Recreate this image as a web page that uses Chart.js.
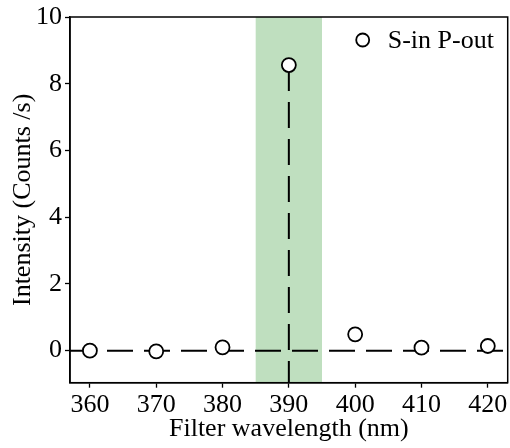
<!DOCTYPE html>
<html>
<head>
<meta charset="utf-8">
<script src="https://cdn.jsdelivr.net/npm/chart.js@4/dist/chart.umd.min.js"></script>
<style>
  html, body { margin: 0; padding: 0; background: #fff; }
  #wrap { width: 510px; height: 448px; }
</style>
</head>
<body>
<div id="wrap"><canvas id="chart" width="510" height="448"></canvas></div>
<script>
// data
const wavelengths = [360, 370, 380, 390, 400, 410, 420]
const intensity = [0.0, -0.02, 0.10, 8.56, 0.49, 0.09, 0.14]
const xTicks = [360, 370, 380, 390, 400, 410, 420]
const yTicks = [0, 2, 4, 6, 8, 10]
const xRange = [357, 423]
const yRange = [-0.96, 10]
const filterBand = [385, 395]
const seriesLabel = "S-in P-out"

const FONT = "'Liberation Serif', 'Times New Roman', serif"

// dashed guide: baseline at 0 and a drop line under the peak
const peakIdx = intensity.indexOf(Math.max(...intensity))
const baseline = [{x: xRange[0], y: 0}, {x: xRange[1], y: 0}]
const dropLine = [
  {x: wavelengths[peakIdx], y: intensity[peakIdx]},
  {x: wavelengths[peakIdx], y: yRange[0]},
]

const bandPlugin = {
  id: "band",
  beforeDatasetsDraw(chart) {
    const {ctx, chartArea: a, scales: {x}} = chart
    const x0 = x.getPixelForValue(filterBand[0])
    const x1 = x.getPixelForValue(filterBand[1])
    ctx.save()
    ctx.fillStyle = "rgb(191,223,191)"
    ctx.fillRect(x0, a.top, x1 - x0, a.bottom - a.top)
    ctx.restore()
  },
}

const framePlugin = {
  id: "frame",
  afterDraw(chart) {
    const {ctx, chartArea: a} = chart
    ctx.save()
    ctx.strokeStyle = "#000"
    ctx.lineWidth = 1.5
    ctx.strokeRect(a.left, a.top, a.right - a.left, a.bottom - a.top)
    ctx.restore()
  },
}

const legendPlugin = {
  id: "legendBox",
  afterDraw(chart) {
    const {ctx, chartArea: a} = chart
    const cx = a.right - 145, cy = a.top + 23
    ctx.save()
    ctx.beginPath()
    ctx.arc(cx, cy, 6.5, 0, Math.PI * 2)
    ctx.fillStyle = "#fff"
    ctx.fill()
    ctx.lineWidth = 1.8
    ctx.strokeStyle = "#000"
    ctx.stroke()
    ctx.fillStyle = "#000"
    ctx.font = "26px " + FONT
    ctx.textBaseline = "middle"
    ctx.fillText(seriesLabel, cx + 25, cy + 1)
    ctx.restore()
  },
}

new Chart(document.getElementById("chart"), {
  type: "scatter",
  data: {
    datasets: [
      {
        label: seriesLabel,
        data: wavelengths.map((w, i) => ({x: w, y: intensity[i]})),
        pointRadius: 7,
        pointBorderWidth: 1.8,
        pointBackgroundColor: "#fff",
        pointBorderColor: "#000",
        showLine: false,
        order: 0,
      },
      {
        data: baseline,
        showLine: true,
        borderColor: "#000",
        borderWidth: 2,
        borderDash: [26, 11],
        pointRadius: 0,
        order: 1,
      },
      {
        data: dropLine,
        showLine: true,
        borderColor: "#000",
        borderWidth: 2,
        borderDash: [26, 11],
        pointRadius: 0,
        order: 1,
      },
    ],
  },
  options: {
    responsive: false,
    animation: false,
    devicePixelRatio: 1,
    layout: { autoPadding: false, padding: { top: 17, right: 2.3, left: 0, bottom: 0 } },
    plugins: { legend: { display: false }, tooltip: { enabled: false } },
    scales: {
      x: {
        type: "linear",
        min: xRange[0],
        max: xRange[1],
        afterBuildTicks: s => { s.ticks = xTicks.map(v => ({value: v})) },
        afterFit: s => { s.height = 65.3; s.paddingLeft = 0; s.paddingRight = 0 },
        grid: { drawOnChartArea: false, drawTicks: true, tickLength: 5, color: "#000", tickWidth: 1.3 },
        border: { display: true, color: "#000", width: 1.5 },
        ticks: { color: "#000", font: { family: FONT, size: 26 }, padding: 2, maxRotation: 0 },
        title: {
          display: true,
          text: "Filter wavelength (nm)",
          color: "#000",
          font: { family: FONT, size: 26 },
          padding: { top: 0, bottom: 3 },
        },
      },
      y: {
        min: yRange[0],
        max: yRange[1],
        afterBuildTicks: s => { s.ticks = yTicks.map(v => ({value: v})) },
        afterFit: s => { s.width = 70; s.paddingTop = 0; s.paddingBottom = 0 },
        grid: { drawOnChartArea: false, drawTicks: true, tickLength: 5, color: "#000", tickWidth: 1.3 },
        border: { display: true, color: "#000", width: 1.5 },
        ticks: { color: "#000", font: { family: FONT, size: 26 }, padding: 3 },
        title: {
          display: true,
          text: "Intensity (Counts /s)",
          color: "#000",
          font: { family: FONT, size: 26 },
          padding: { top: 8, bottom: 0 },
        },
      },
    },
  },
  plugins: [bandPlugin, framePlugin, legendPlugin],
})
</script>
</body>
</html>
